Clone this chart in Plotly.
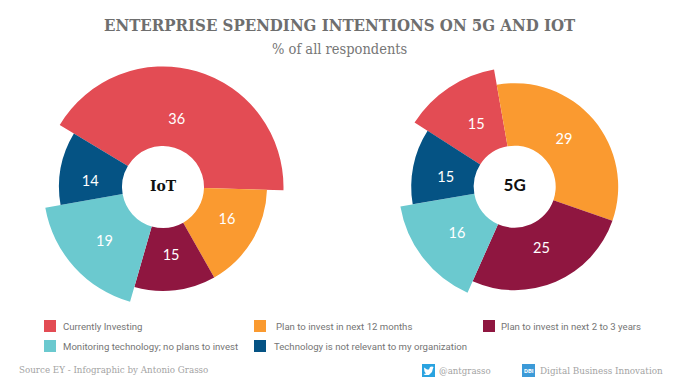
import plotly.graph_objects as go

W, H = 680, 383

categories = ["Currently Investing", "Plan to invest in next 12 months",
              "Plan to invest in next 2 to 3 years",
              "Monitoring technology; no plans to invest",
              "Technology is not relevant to my organization"]
colors = ["#E34C54", "#FA9A30", "#8F1640", "#6BC9CF", "#055384"]

iot_values = [36, 16, 15, 19, 14]
iot_start = 301
iot_spans = [150.5, 59, 45.5, 64, 41]
iot_radii = [120.5, 104, 104, 119.5, 104]
iot_label_r = [68, 72, 69.5, 80.7, 73]
iot_label_theta = [11.6, 117.3, 173.3, 226.5, 273.5]

g5_values = [15, 29, 25, 16, 15]
g5_start = 302.7
g5_spans = [47.3, 119.2, 94.8, 56.2, 42.5]
g5_radii = [119, 103.5, 103.5, 116, 103.5]
g5_label_r = [72, 67.9, 68.6, 74.6, 69.4]
g5_label_theta = [327.7, 46.6, 157, 230.6, 276.5]

HOLE = 41
RMAX = 125
SLAB = "DejaVu Serif Condensed, DejaVu Serif"


def centers(start, spans):
    out, a = [], start
    for s in spans:
        out.append(a + s / 2)
        a += s
    return out


def px(x):
    return x / W


def py(y):
    return 1 - y / H


fig = go.Figure()


def add_pie(subplot, start, spans, radii, values, lr, lt, name, namefont, namesize):
    fig.add_trace(go.Barpolar(
        theta=centers(start, spans), width=spans,
        r=[r - HOLE for r in radii], base=[HOLE] * len(radii),
        marker=dict(color=colors, line=dict(width=0)),
        subplot=subplot, showlegend=False, hoverinfo="skip"))
    fig.add_trace(go.Scatterpolar(
        r=lr, theta=lt, mode="text", text=[str(v) for v in values],
        textfont=dict(family="Lato", size=14.5, color="white"),
        textposition="middle center", subplot=subplot,
        showlegend=False, hoverinfo="skip"))
    fig.add_trace(go.Scatterpolar(
        r=[0], theta=[0], mode="text", text=[name],
        textfont=dict(family=namefont, size=namesize, color="#111111"),
        textposition="middle center", subplot=subplot,
        showlegend=False, hoverinfo="skip"))


add_pie("polar", iot_start, iot_spans, iot_radii, iot_values,
        iot_label_r, iot_label_theta, "<b>IoT</b>", SLAB, 15.5)
add_pie("polar2", g5_start, g5_spans, g5_radii, g5_values,
        g5_label_r, g5_label_theta, "<b>5G</b>", "Lato", 17)


def polar_layout(cx, cy):
    return dict(
        domain=dict(x=[px(cx - RMAX), px(cx + RMAX)], y=[py(cy + RMAX), py(cy - RMAX)]),
        bgcolor="rgba(0,0,0,0)",
        radialaxis=dict(visible=False, range=[0, RMAX]),
        angularaxis=dict(visible=False, rotation=90, direction="clockwise"),
        barmode="overlay",
    )


annotations = []
shapes = []


def text(x, y, s, family, size, color, anchor="left"):
    annotations.append(dict(
        x=px(x), y=py(y), xref="paper", yref="paper", text=s, showarrow=False,
        xanchor=anchor, yanchor="middle", align=anchor,
        font=dict(family=family, size=size, color=color)))


text(340, 25, "<b>ENTERPRISE SPENDING INTENTIONS ON 5G AND IOT</b>", SLAB, 16.7, "#6E6E6E", "center")
text(340, 49, "% of all respondents", SLAB, 14.5, "#767676", "center")

legend_x = [44, 254, 483, 44, 254]
legend_y = [326, 326, 326, 346, 346]
legend_tx = [61, 274, 499, 61, 272]
for i, cat in enumerate(categories):
    shapes.append(dict(type="rect", xref="paper", yref="paper",
                       x0=px(legend_x[i]), x1=px(legend_x[i] + 12),
                       y0=py(legend_y[i] + 6), y1=py(legend_y[i] - 6),
                       fillcolor=colors[i], line=dict(width=0)))
    text(legend_tx[i], legend_y[i], cat, "Roboto", 9.6, "#757575")

text(17, 369, "Source EY - Infographic by Antonio Grasso", SLAB, 9.7, "#A3A3A3")
text(437, 370, "@antgrasso", SLAB, 9.6, "#A3A3A3")
text(538, 370, "Digital Business Innovation", SLAB, 9.8, "#A3A3A3")

# Twitter and DBI badges
shapes.append(dict(type="rect", xref="paper", yref="paper", x0=px(422), x1=px(435),
                   y0=py(377), y1=py(364), fillcolor="#2AA3E0", line=dict(width=0)))
bird = [(424, 367.5), (427, 369.5), (429, 369.5), (430, 367), (432, 366.5), (433.5, 367),
        (432.8, 369), (432, 372), (429, 375), (425, 375), (423.5, 374), (426, 373.5),
        (424.5, 371.5)]
shapes.append(dict(type="path", xref="paper", yref="paper",
                   path="M " + " L ".join(f"{px(a):.5f},{py(b):.5f}" for a, b in bird) + " Z",
                   fillcolor="white", line=dict(width=0)))
shapes.append(dict(type="rect", xref="paper", yref="paper", x0=px(522), x1=px(535),
                   y0=py(377), y1=py(364), fillcolor="#3C9AD8", line=dict(width=0)))
text(528.5, 370.5, "<b>DBI</b>", "Roboto", 6, "white", "center")

fig.update_layout(
    width=W, height=H, autosize=False,
    margin=dict(l=0, r=0, t=0, b=0),
    paper_bgcolor="white", plot_bgcolor="white", showlegend=False,
    polar=polar_layout(163, 187), polar2=polar_layout(514.7, 186.7),
    annotations=annotations, shapes=shapes,
)
fig.write_html("out.html", config=dict(displayModeBar=False),
               post_script="document.body.style.margin='0';document.documentElement.style.overflow='hidden';")
